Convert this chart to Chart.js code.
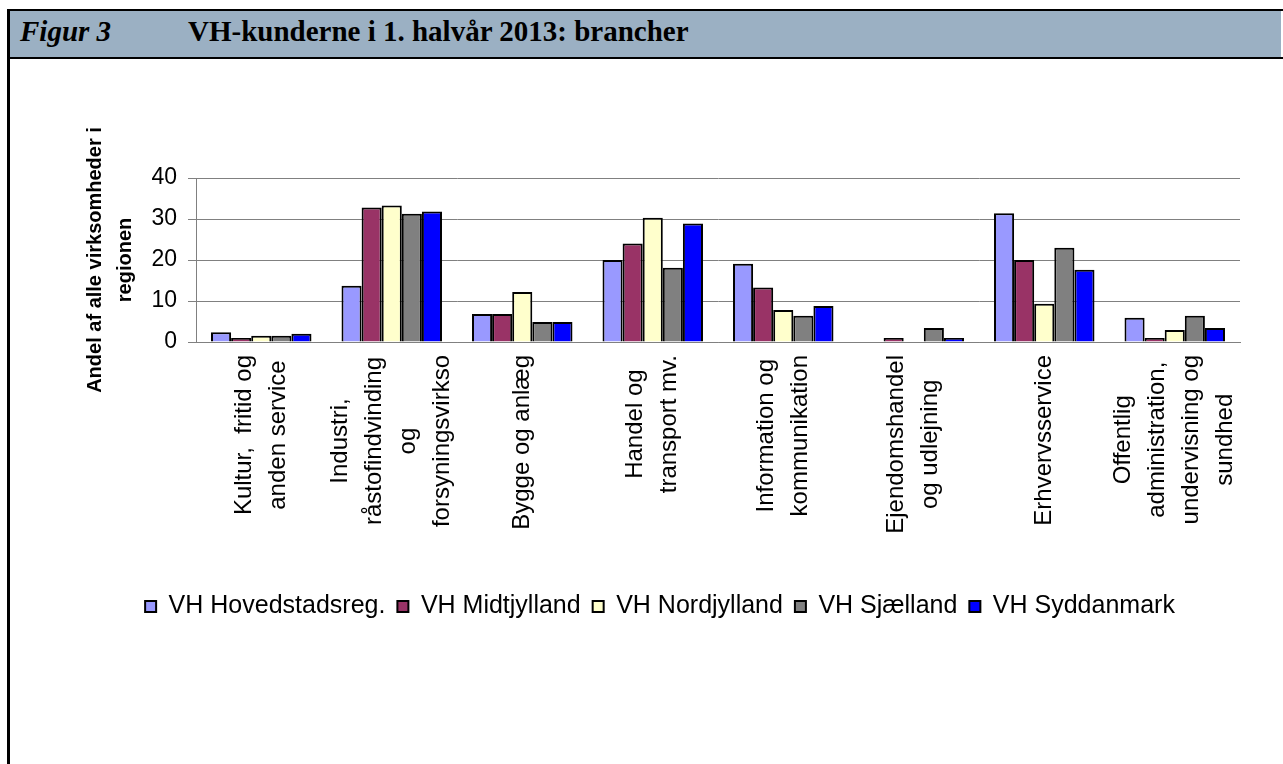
<!DOCTYPE html>
<html>
<head>
<meta charset="utf-8">
<script src="https://cdn.jsdelivr.net/npm/chart.js@4"></script>
<style>
  body { margin: 0; width: 1283px; height: 764px; background: #fff; overflow: hidden; position: relative; font-family: "Liberation Sans", Arial, sans-serif; }
  .line { position: absolute; background: #000; }
  #head { position: absolute; left: 10px; top: 11px; width: 1271px; height: 46px; background: #9bb0c3; }
  #head span { position: absolute; top: 3px; font-family: "Liberation Serif", "Times New Roman", serif; font-weight: bold; font-size: 29px; line-height: 34px; color: #000; white-space: nowrap; }
  #chart { position: absolute; left: 10px; top: 60px; }
</style>
</head>
<body>
<div class="line" style="left:7px;top:9px;width:1276px;height:2px"></div>
<div class="line" style="left:7px;top:9px;width:3px;height:755px"></div>
<div id="head">
  <span style="left:10px;font-style:italic">Figur 3</span>
  <span style="left:178px">VH-kunderne i 1. halvår 2013: brancher</span>
</div>
<div class="line" style="left:7px;top:57px;width:1276px;height:2px"></div>
<canvas id="chart" width="1273" height="600"></canvas>
<script>
const categories = [
  ['Kultur,  fritid og', 'anden service'],
  ['Industri,', 'råstofindvinding', 'og', 'forsyningsvirkso'],
  ['Bygge og anlæg'],
  ['Handel og', 'transport mv.'],
  ['Information og', 'kommunikation'],
  ['Ejendomshandel', 'og udlejning'],
  ['Erhvervsservice'],
  ['Offentlig', 'administration,', 'undervisning og', 'sundhed']
];
const seriesNames = ['VH Hovedstadsreg.', 'VH Midtjylland', 'VH Nordjylland', 'VH Sjælland', 'VH Syddanmark'];
const hovedstad = [2.4, 13.7, 6.8, 20.0, 19.1, 0, 31.4, 5.9];
const midtjylland = [1.0, 32.8, 6.8, 24.0, 13.3, 1.0, 20.0, 1.0];
const nordjylland = [1.5, 33.3, 12.2, 30.3, 7.8, 0, 9.3, 2.9];
const sjaelland = [1.5, 31.3, 4.9, 18.1, 6.4, 3.4, 23.0, 6.4];
const syddanmark = [2.0, 31.8, 4.9, 28.9, 8.8, 1.0, 17.6, 3.4];
const yTicks = [0, 10, 20, 30, 40];

const colors = ['#9999ff', '#993366', '#ffffcc', '#808080', '#0000ff'];
const font = '"Liberation Sans", Arial, sans-serif';

// rotated, centre-aligned multi-line category labels (Excel style)
const xLabels = {
  id: 'xLabels',
  afterDraw(chart) {
    const { ctx, scales: { x } } = chart;
    ctx.save();
    ctx.font = '24px ' + font;
    ctx.fillStyle = '#000';
    ctx.textAlign = 'center';
    ctx.textBaseline = 'middle';
    const gap = 34;
    categories.forEach((lines, i) => {
      const cx = x.getPixelForValue(i);
      const maxW = Math.max(...lines.map(l => ctx.measureText(l).width));
      const top = x.top + 13;
      lines.forEach((l, j) => {
        const lx = cx + (j - (lines.length - 1) / 2) * gap;
        ctx.save();
        ctx.translate(lx, top + maxW / 2);
        ctx.rotate(-Math.PI / 2);
        ctx.fillText(l, 0, 0);
        ctx.restore();
      });
    });
    ctx.restore();
  }
};

const data = [hovedstad, midtjylland, nordjylland, sjaelland, syddanmark];

new Chart(document.getElementById('chart'), {
  type: 'bar',
  data: {
    labels: categories.map(c => c.join(' ')),
    datasets: data.map((d, i) => ({
      label: seriesNames[i],
      data: d,
      backgroundColor: colors[i],
      borderColor: '#000',
      borderWidth: 2,
      borderSkipped: 'bottom',
      categoryPercentage: 0.77,
      barPercentage: 1.0
    }))
  },
  options: {
    responsive: false,
    animation: false,
    devicePixelRatio: 1,
    layout: { padding: { top: 118, right: 43, bottom: 31, left: 70 } },
    plugins: {
      tooltip: { enabled: false },
      legend: {
        position: 'bottom',
        labels: {
          color: '#000',
          font: { family: font, size: 25 },
          boxWidth: 11,
          boxHeight: 11,
          padding: 12
        }
      }
    },
    scales: {
      x: {
        grid: { display: false },
        border: { display: true, color: '#808080', width: 1 },
        ticks: { display: false },
        afterFit(s) { s.height = 240; }
      },
      y: {
        min: 0,
        max: 40,
        afterBuildTicks(s) { s.ticks = yTicks.map(v => ({ value: v })); },
        grid: { color: '#808080', lineWidth: 1, tickLength: 8, tickColor: '#808080' },
        border: { display: true, color: '#808080', width: 1 },
        ticks: { color: '#000', font: { family: font, size: 23 }, padding: 11 },
        title: {
          display: true,
          text: ['Andel af alle virksomheder i', 'regionen'],
          color: '#000',
          font: { family: font, size: 20, weight: 'bold', lineHeight: 1.5 },
          padding: { top: 0, bottom: 0 }
        },
        afterFit(s) { s.width = 116; }
      }
    }
  },
  plugins: [xLabels]
});
</script>
</body>
</html>
